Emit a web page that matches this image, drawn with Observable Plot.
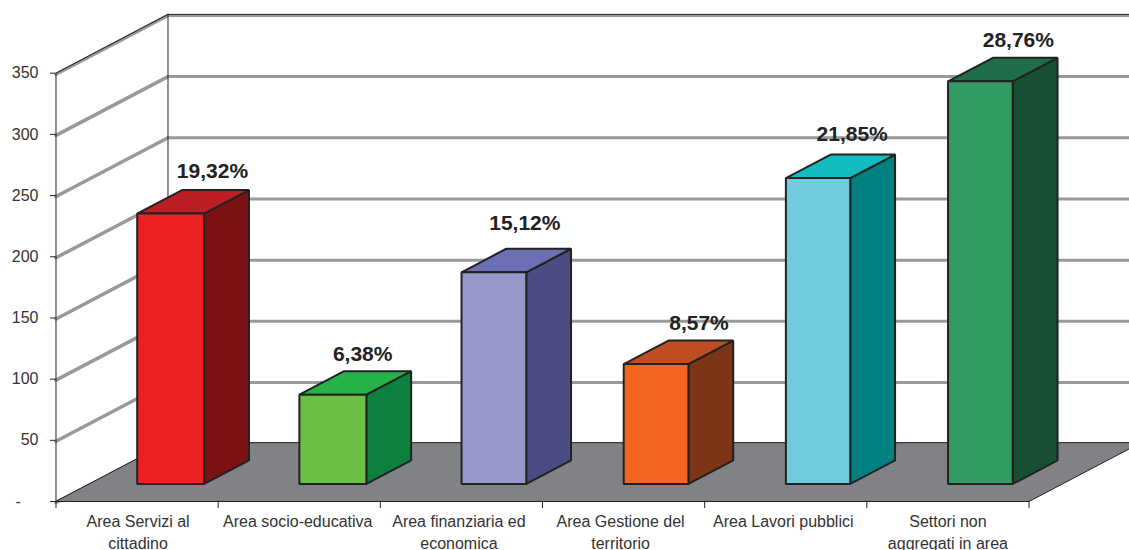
<!DOCTYPE html>
<html>
<head>
<meta charset="utf-8">
<style>html,body{margin:0;padding:0;background:#fff;overflow:hidden}</style>
<script src="https://cdn.jsdelivr.net/npm/d3@7"></script>
<script src="https://cdn.jsdelivr.net/npm/@observablehq/plot@0.6"></script>
</head>
<body>
<div id="chart"></div>
<script>
const categories = ["Area Servizi al\ncittadino","Area socio-educativa","Area finanziaria ed\neconomica","Area Gestione del\nterritorio","Area Lavori pubblici","Settori non\naggregati in area"];
const values = [221, 73, 173, 98, 250, 329];
const shares = ["19,32%","6,38%","15,12%","8,57%","21,85%","28,76%"];
const yTicks = [0,50,100,150,200,250,300,350];
const frontColors = ["#ED2024","#6CBE45","#9797C9","#F36621","#70CCDD","#319B63"];
const sideColors  = ["#7C1214","#0D8040","#4B4C82","#7D3518","#008080","#184E32"];
const topColors   = ["#BB1E23","#27B24A","#6C6FB4","#BE4F25","#13BDBD","#1F6E49"];
const barEnds = [0.708,0.708,0.694,0.694,0.692,0.694];
const labelDx = [-3,-15,-15,-3,-12,-8];
const labelDy = [-19,-17,-25,-17,-20,-17];
const categoryDx = [1,-1.5,-2.5,-3,-2.5,0];

// oblique projection: depth d (0 front .. 1 back) shifts a point along x and y in data units
const depthX = 0.6906, depthV = 48.05;
const P = (x, v, d) => ({x: x + d * depthX, y: v + d * depthV});
const poly = (id, fill, pts) => pts.map(([x, v, d]) => ({...P(x, v, d), id, fill}));

const n = categories.length, maxTick = yTicks[yTicks.length - 1];
const bx0 = 0.295, d0 = 0.298, d1 = 0.698;

const faces = values.flatMap((v, i) => {
  const a = i + bx0, b = i + barEnds[i];
  return [
    ...poly(`s${i}`, sideColors[i], [[b,0,d0],[b,0,d1],[b,v,d1],[b,v,d0]]),
    ...poly(`t${i}`, topColors[i], [[a,v,d0],[b,v,d0],[b,v,d1],[a,v,d1]]),
    ...poly(`f${i}`, frontColors[i], [[a,0,d0],[b,0,d0],[b,v,d0],[a,v,d0]])
  ];
});
const floor = poly("floor", "#808285", [[0,0,0],[n,0,0],[n,0,1],[0,0,1]]);
const sideGrid = yTicks.flatMap(v => poly(`g${v}`, "none", [[0,v,0],[0,v,1]]));
const backGrid = yTicks.flatMap(v => poly(`b${v}`, "none", [[0,v,1],[n,v,1]]));
const wallEdges = [
  ...poly("a", "none", [[0,0,0],[0,maxTick,0],[0,maxTick,1],[n,maxTick,1]]),
  ...poly("c", "none", [[0,0,1],[0,maxTick,1]])
];

const chart = Plot.plot({
  width: 1129, height: 550,
  marginLeft: 0, marginRight: 0, marginTop: 0, marginBottom: 0,
  style: {fontFamily: "'Liberation Sans', Arial, sans-serif", background: "#fff"},
  x: {type: "linear", domain: [-0.3422, 6.6197], range: [0, 1129]},
  y: {type: "linear", domain: [-40.04, 409.4], range: [550, 0]},
  color: {type: "identity"},
  marks: [
    Plot.line(sideGrid, {x: "x", y: "y", z: "id", stroke: "#999", strokeWidth: 3.5, dy: 1}),
    Plot.line(backGrid, {x: "x", y: "y", z: "id", stroke: "#999", strokeWidth: 3, dy: 1}),
    Plot.line(wallEdges, {x: "x", y: "y", z: "id", stroke: "#222", strokeWidth: 1}),
    Plot.line(floor, {x: "x", y: "y", z: "id", fill: "fill", stroke: "#222", strokeWidth: 1, curve: "linear-closed"}),
    Plot.axisY({ticks: yTicks, anchor: "left", x: 0, label: null, tickSize: 5.5, tickPadding: 12,
      tickFormat: v => v === 0 ? "-\u00a0\u00a0\u00a0\u00a0" : String(v),
      fontSize: 16, fill: "#333", stroke: "#222"}),
    Plot.axisX({ticks: d3.range(n + 1), anchor: "bottom", y: 0, label: null, tickSize: 7,
      tickFormat: () => "", stroke: "#222"}),
    ...categories.map((c, i) => Plot.text([c], {
      x: () => i + 0.5, y: () => 0, text: d => d, dx: categoryDx[i], dy: 10,
      fontSize: 16, lineHeight: 22 / 16, lineAnchor: "top", fill: "#333"
    })),
    Plot.line(faces, {x: "x", y: "y", z: "id", fill: "fill", stroke: "#222", strokeWidth: 2,
      strokeLinejoin: "miter", curve: "linear-closed"}),
    ...shares.map((s, i) => Plot.text([s], {
      x: () => P(i + 0.5, values[i], 0.7).x,
      y: () => P(i + 0.5, values[i], 0.7).y,
      dx: labelDx[i], dy: labelDy[i], fontSize: 21, fontWeight: "bold", fill: "#222"
    }))
  ]
});
document.getElementById("chart").appendChild(chart);
</script>
</body>
</html>
